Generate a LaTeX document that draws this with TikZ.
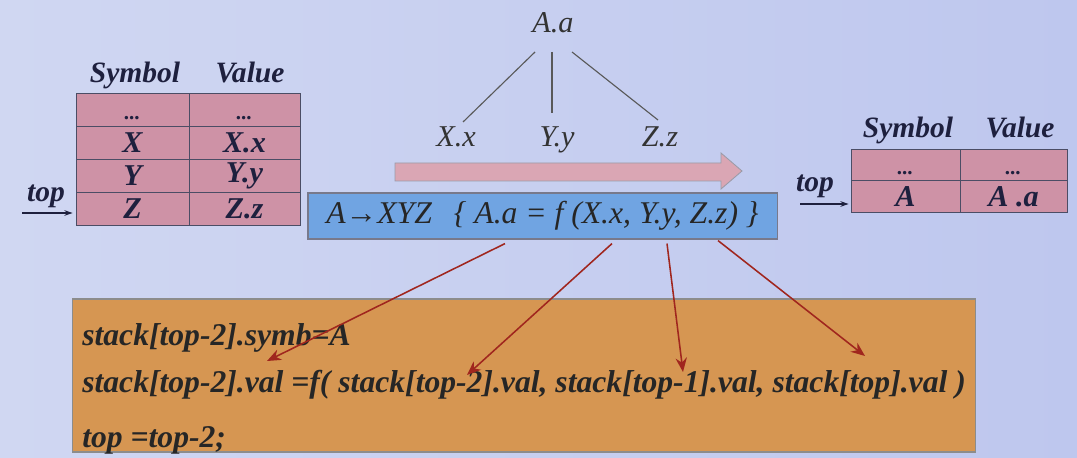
\documentclass[tikz,border=0pt]{standalone}
\usepackage{fontspec}
\setmainfont{Liberation Serif}
\usetikzlibrary{calc,arrows.meta}
\definecolor{bgA}{RGB}{208,215,242}
\definecolor{bgB}{RGB}{190,199,238}
\definecolor{cellpink}{RGB}{206,146,166}
\definecolor{arrowpink}{RGB}{218,166,180}
\definecolor{boxblue}{RGB}{112,164,226}
\definecolor{boxorange}{RGB}{214,150,82}
\definecolor{ink}{RGB}{30,32,62}
\definecolor{redarrow}{RGB}{160,38,30}
\newcommand{\celldots}{\raisebox{-7pt}[0pt][0pt]{\fontsize{15}{16}\selectfont ...}}
\tikzset{
  cell/.style={draw=ink!80, fill=cellpink, inner sep=0pt, minimum height=0.825cm,
    font=\bfseries\itshape\fontsize{21.5}{24}\selectfont, text=ink},
  head/.style={font=\bfseries\itshape\fontsize{21}{23}\selectfont, text=ink, inner sep=0.5pt, anchor=base},
  tree/.style={font=\itshape\fontsize{21.5}{24}\selectfont, text=black!80, inner sep=1pt, anchor=base},
  treeline/.style={draw=black!65, line width=0.8pt},
  codeline/.style={font=\bfseries\itshape\fontsize{22.5}{26}\selectfont, text=black!85, anchor=base west, inner sep=0pt},
  redconn/.style={draw=redarrow, line width=1.1pt, -{Stealth[length=10pt,width=8pt]}},
  toparrow/.style={draw=ink, line width=0.8pt, -{Stealth[length=6pt,width=4pt]}}
}
\begin{document}
\begin{tikzpicture}[x=0.025cm,y=-0.025cm]
\useasboundingbox (0,0) rectangle (1077,458);
\shade[left color=bgA, right color=bgB] (0,0) rectangle (1077,458);

% left table
\node[head] (lsym) at (135,83) {Symbol};
\node[head] (lval) at (250,83) {Value};
\node[cell, minimum width=2.825cm] (l0a) at (132.5,110) {\celldots};
\node[cell, minimum width=2.775cm] (l0b) at (244.5,110) {\celldots};
\node[cell, minimum width=2.825cm] (l1a) at (132.5,143) {X};
\node[cell, minimum width=2.775cm] (l1b) at (244.5,143) {X.x};
\node[cell, minimum width=2.825cm] (l2a) at (132.5,176) {Y};
\node[cell, minimum width=2.775cm] (l2b) at (244.5,176) {Y.y};
\node[cell, minimum width=2.825cm] (l3a) at (132.5,209) {Z};
\node[cell, minimum width=2.775cm] (l3b) at (244.5,209) {Z.z};
\node[head] (ltoplbl) at (46,202) {top};
\coordinate (ltop) at (22,213);
\draw[toparrow] (ltop) -- ($(ltop -| l3a.west)+(-3,0)$);

% tree
\node[tree] (Aa) at (553,33) {A.a};
\node[tree] (Xx) at (456,147) {X.x};
\node[tree] (Yy) at (557,147) {Y.y};
\node[tree] (Zz) at (660,147) {Z.z};
\draw[treeline] ($(Aa.base)+(-18,19)$) -- ($(Xx.base)+(7,-25)$);
\draw[treeline] ($(Aa.base)+(-1,19)$) -- ($(Yy.base)+(-5,-34)$);
\draw[treeline] ($(Aa.base)+(19,19)$) -- ($(Zz.base)+(-2,-27)$);

% fat arrow
\draw[draw=ink!45, fill=arrowpink, line width=0.6pt]
  (395,163) -- (721,163) -- (721,153) -- (742,171) -- (721,189) -- (721,181) -- (395,181) -- cycle;

% rule box
\node[draw=ink!60, fill=boxblue, line width=0.8pt, minimum width=11.725cm, minimum height=1.15cm,
  font=\itshape\fontsize{22.5}{25}\selectfont, text=black!85] (rule) at (542.5,216)
  {A→XYZ\hspace{0.55cm}\{ A.a = f (X.x, Y.y, Z.z) \}};

% right table
\node[head] (rsym) at (908,138) {Symbol};
\node[head] (rval) at (1020,138) {Value};
\node[cell, minimum width=2.725cm, minimum height=0.7875cm] (r0a) at (905.5,164.75) {\celldots};
\node[cell, minimum width=2.675cm, minimum height=0.7875cm] (r0b) at (1013.5,164.75) {\celldots};
\node[cell, minimum width=2.725cm, minimum height=0.7875cm] (r1a) at (905.5,196.25) {A};
\node[cell, minimum width=2.675cm, minimum height=0.7875cm] (r1b) at (1013.5,196.25) {A .a};
\node[head] (rtoplbl) at (815,192) {top};
\coordinate (rtop) at (800,204);
\draw[toparrow] (rtop) -- ($(rtop -| r1a.west)+(-2,0)$);

% code box
\node[draw=black!45, fill=boxorange, line width=0.8pt, minimum width=22.55cm, minimum height=3.825cm] (code) at (524,375.5) {};
\node[codeline] (c1) at (82,345) {stack[top-2].symb=A};
\node[codeline] (c2) at (82,392) {stack[top-2].val =f( stack[top-2].val, stack[top-1].val, stack[top].val )};
\node[codeline] (c3) at (82,447) {top =top-2;};

% red connectors
\coordinate (e1) at (267,361);
\coordinate (e2) at (467,375);
\coordinate (e3) at (683,372);
\coordinate (e4) at (865,356);
\draw[redconn] ($(rule.south)+(-37.5,4)$) -- (e1);
\draw[redconn] ($(rule.south)+(69.5,4)$) -- (e2);
\draw[redconn] ($(rule.south)+(124.5,4)$) -- (e3);
\draw[redconn] ($(rule.south)+(175.5,1)$) -- (e4);
\end{tikzpicture}
\end{document}
